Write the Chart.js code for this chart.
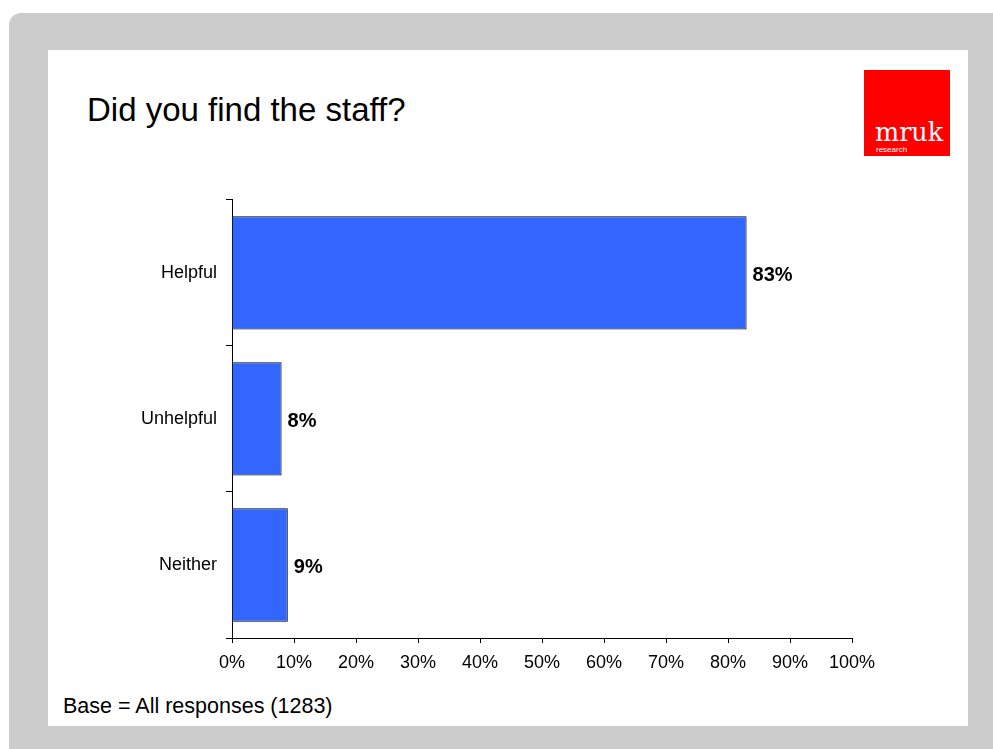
<!DOCTYPE html>
<html lang="en">
<head>
  <meta charset="UTF-8" />
  <title>Did you find the staff?</title>
  <script src="https://cdn.jsdelivr.net/npm/chart.js"></script>
  <style>
    body {
      margin: 0;
      width: 993px;
      height: 749px;
      background: #fff;
      font-family: "Liberation Sans", Arial, sans-serif;
      position: relative;
      overflow: hidden;
    }
    .frame {
      position: absolute;
      left: 9px; top: 13px;
      width: 984px; height: 736px;
      background: #cccccc;
      border-top-left-radius: 12px;
    }
    .slide {
      position: absolute;
      left: 48px; top: 50px;
      width: 920px; height: 676px;
      background: #fff;
    }
    .title {
      position: absolute;
      left: 87px; top: 93px;
      font-size: 33px;
      line-height: 1;
      color: #000;
      white-space: nowrap;
    }
    .logo {
      position: absolute;
      left: 864px; top: 70px;
      width: 86px; height: 86px;
      background: #ff0000;
      color: #fff;
    }
    .logo .name {
      position: absolute;
      left: 11px; top: 50px;
      font-family: "DejaVu Serif", "Liberation Serif", serif;
      font-size: 25.5px;
      line-height: 1;
    }
    .logo .sub {
      position: absolute;
      left: 12px; top: 76px;
      font-size: 8px;
      line-height: 1;
    }
    .note {
      position: absolute;
      left: 63px; top: 696px;
      font-size: 21.5px;
      line-height: 1;
      white-space: nowrap;
    }
    #wrap {
      position: absolute;
      left: 100px; top: 180px;
      width: 800px; height: 520px;
    }
  </style>
</head>
<body>
  <div class="frame"></div>
  <div class="slide"></div>
  <div class="title">Did you find the staff?</div>
  <div class="logo"><span class="name">mruk</span><span class="sub">research</span></div>
  <div class="note">Base = All responses (1283)</div>
  <div id="wrap"><canvas id="chart" width="800" height="520"></canvas></div>

  <script>
    const categories = ['Helpful', 'Unhelpful', 'Neither'];
    const percents = [83, 8, 9];
    const xTicks = [0, 10, 20, 30, 40, 50, 60, 70, 80, 90, 100];

    const fontFamily = '"Liberation Sans", Arial, sans-serif';

    // writes the percentage just past the end of each bar
    const valueLabels = {
      id: 'valueLabels',
      afterDatasetsDraw(chart) {
        const ctx = chart.ctx;
        const meta = chart.getDatasetMeta(0);
        ctx.save();
        ctx.font = 'bold 20px ' + fontFamily;
        ctx.fillStyle = '#000';
        ctx.textAlign = 'left';
        ctx.textBaseline = 'middle';
        meta.data.forEach((bar, i) => {
          ctx.fillText(percents[i] + '%', bar.x + 6, bar.y + 3);
        });
        ctx.restore();
      }
    };

    new Chart(document.getElementById('chart'), {
      type: 'bar',
      data: {
        labels: categories,
        datasets: [{
          data: percents,
          backgroundColor: '#3366ff',
          borderColor: '#000',
          borderWidth: 1,
          categoryPercentage: 1,
          barPercentage: 0.776
        }]
      },
      options: {
        indexAxis: 'y',
        responsive: false,
        animation: false,
        layout: { padding: { top: 17, right: 48, left: 0, bottom: 0 } },
        plugins: {
          legend: { display: false },
          tooltip: { enabled: false }
        },
        scales: {
          x: {
            min: 0,
            max: 100,
            afterBuildTicks: scale => { scale.ticks = xTicks.map(v => ({ value: v })); },
            afterFit: scale => { scale.height = 62; },
            border: { color: '#000', width: 1 },
            grid: { drawOnChartArea: false, drawTicks: true, tickLength: 5, color: '#000' },
            ticks: {
              padding: 9,
              color: '#000',
              font: { family: fontFamily, size: 18 },
              callback: v => v + '%'
            }
          },
          y: {
            afterFit: scale => { scale.width = 132; },
            border: { color: '#000', width: 1 },
            grid: { offset: true, drawOnChartArea: false, drawTicks: true, tickLength: 6, color: '#000' },
            ticks: {
              padding: 9,
              color: '#000',
              font: { family: fontFamily, size: 18 }
            }
          }
        }
      },
      plugins: [valueLabels]
    });
  </script>
</body>
</html>
